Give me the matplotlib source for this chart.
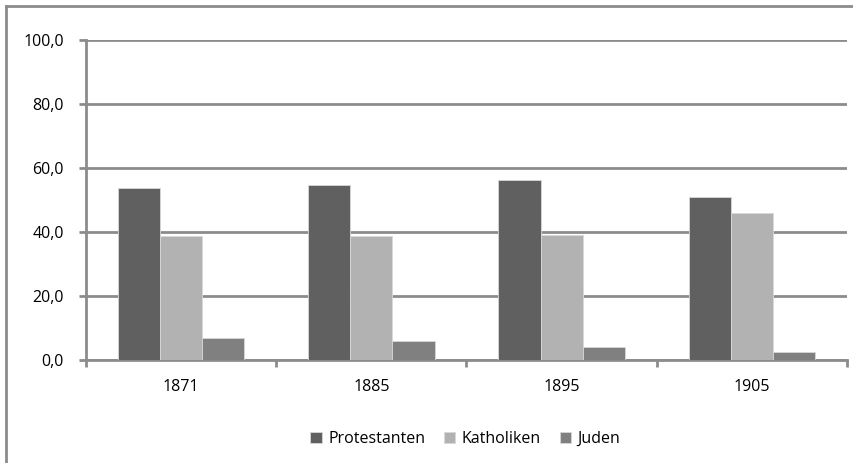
import matplotlib.pyplot as plt
import numpy as np
from matplotlib.lines import Line2D

plt.rcParams['font.family'] = ['Open Sans', 'DejaVu Sans']

years = ['1871', '1885', '1895', '1905']
protestanten = [53.6, 54.7, 56.2, 50.8]
katholiken = [38.8, 38.8, 39.1, 45.9]
juden = [6.9, 5.9, 4.0, 2.5]
yticks = [0, 20, 40, 60, 80, 100]

grid_col = '#8c8c8c'

fig = plt.figure(figsize=(8.54, 4.63), dpi=100)
ax = fig.add_axes([86/854, 103/463, 761/854, 320/463])

x = np.arange(len(years))
w = 0.222
ax.bar(x - w, protestanten, w, color='#606060', edgecolor='#d8d8d8', linewidth=0.6, label='Protestanten', zorder=3)
ax.bar(x, katholiken, w, color='#b2b2b2', edgecolor='#d8d8d8', linewidth=0.6, label='Katholiken', zorder=3)
ax.bar(x + w, juden, w, color='#808080', edgecolor='#d8d8d8', linewidth=0.6, label='Juden', zorder=3)

ax.set_xlim(-0.5, len(years) - 0.5)
ax.set_ylim(0, 100)
ax.set_yticks(yticks)
ax.set_yticklabels(['%.1f' % v for v in yticks])
ax.yaxis.set_major_formatter(plt.FuncFormatter(lambda v, p: ('%.1f' % v).replace('.', ',')))
ax.set_xticks(x)
ax.set_xticklabels(years)
ax.set_xticks(np.arange(len(years) + 1) - 0.5, minor=True)

ax.grid(axis='y', color=grid_col, linewidth=2, zorder=0)
ax.set_axisbelow(True)
for s in ['top', 'right']:
    ax.spines[s].set_visible(False)
for s in ['left', 'bottom']:
    ax.spines[s].set_color(grid_col)
    ax.spines[s].set_linewidth(2)

ax.tick_params(axis='x', which='major', length=0, pad=14, labelsize=11.5)
ax.tick_params(axis='x', which='minor', length=5, width=2, color=grid_col)
ax.tick_params(axis='y', length=5, width=2, color=grid_col, pad=11, labelsize=11.5)

fig.legend(loc='center', bbox_to_anchor=(0.545, 1 - 439/463), ncol=3, frameon=False,
           fontsize=11.5, handlelength=0.7, handleheight=0.7, handletextpad=0.4, columnspacing=1.2)

# outer chart frame (only top and left visible)
fig.add_artist(Line2D([6/854, 1], [1 - 6/463, 1 - 6/463], color=grid_col, linewidth=2))
fig.add_artist(Line2D([6/854, 6/854], [0, 1 - 6/463], color=grid_col, linewidth=2))

fig.savefig('out.png', dpi=100)
